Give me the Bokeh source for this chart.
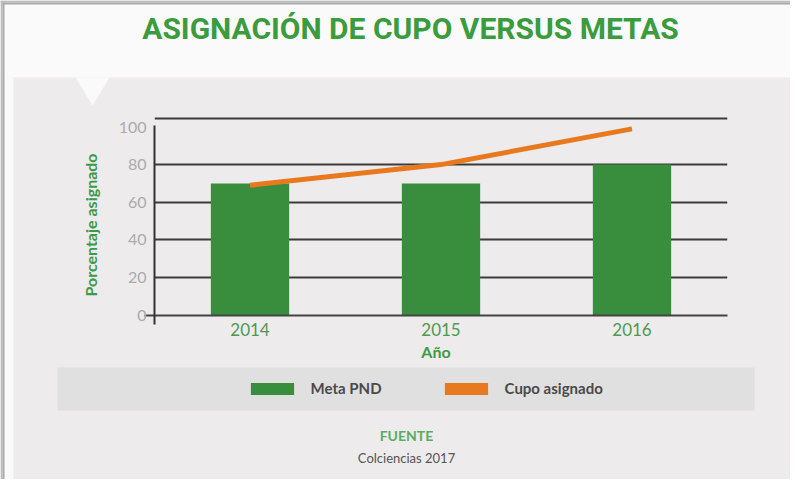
from bokeh.plotting import figure
from bokeh.models import (Range1d, FixedTicker, BoxAnnotation, PolyAnnotation,
                          Label, Legend, LegendItem, ColumnDataSource)
from bokeh.embed import file_html
from bokeh.resources import INLINE

# ---- data ----
years = [2014, 2015, 2016]
meta_pnd = [70, 70, 80]
cupo_asignado = [69, 80, 99]
y_ticks = [0, 20, 40, 60, 80, 100]
grid_ticks = [20, 40, 60, 80, 104.5]

GREEN = "#388E3C"
ORANGE = "#E8791E"
TXT_GREEN = "#3E9A44"
PANEL = "#EDEBEC"

W, H = 790, 479
PX_X = 191.0      # px per year
PX_Y = 1.88       # px per percent
X0_PX, Y0_PX = 154, 314.5   # canvas px of (2013.5, 0)

x_start = 2013.5 - X0_PX / PX_X
x_end = x_start + W / PX_X
y_end = Y0_PX / PX_Y
y_start = y_end - H / PX_Y

p = figure(width=W, height=H, x_range=Range1d(x_start, x_end), y_range=Range1d(y_start, y_end),
           output_backend="svg", toolbar_location=None,
           min_border=0, min_border_left=0, min_border_right=0, min_border_top=0, min_border_bottom=0)
p.border_fill_color = PANEL
p.background_fill_color = PANEL
p.outline_line_color = None


def sy(fy):
    return H - fy


def box(l, r, t, b, color):
    p.add_layout(BoxAnnotation(left=l, right=r, top=sy(t), bottom=sy(b),
                               left_units="screen", right_units="screen",
                               top_units="screen", bottom_units="screen",
                               fill_color=color, fill_alpha=1, line_color=None, level="underlay"))


# ---- grid ----
p.xgrid.grid_line_color = None
p.ygrid.ticker = FixedTicker(ticks=grid_ticks)
p.ygrid.grid_line_color = "#3C3C3C"
p.ygrid.grid_line_width = 2
if "cross_bounds" in p.ygrid[0].properties():
    p.ygrid[0].cross_bounds = (2013.5, 2016.5)

# masks for grid ends, card and shadow
box(13, X0_PX, 100, 305, PANEL)
box(727, W, 100, 305, PANEL)
box(0, W, 0, 77, "#FAFAFA")
box(0, 13, 0, H, "#FAFAFA")
box(0, 2, 0, H, "#BDBDBD")
box(2, 4, 2, H, "#AAAAAA")
box(0, W, 0, 2, "#BDBDBD")
box(2, W, 2, 4, "#AAAAAA")
p.add_layout(PolyAnnotation(xs=[75, 109, 92], ys=[sy(77), sy(77), sy(105)],
                            xs_units="screen", ys_units="screen",
                            fill_color="#FAFAFA", fill_alpha=1, line_color=None, level="underlay"))
# legend band
box(57, 754, 367, 410, "#E0E0E0")

# ---- glyphs ----
src = ColumnDataSource(dict(year=years, meta=meta_pnd, cupo=cupo_asignado))
bars = p.vbar(x="year", top="meta", bottom=0, width=0.41, source=src, fill_color=GREEN, line_color=None)
ln = p.line(x="year", y="cupo", source=src, line_color=ORANGE, line_width=5)
# zero-height proxy (invisible) that gives the legend a block swatch for the line
proxy = p.vbar(x="year", top="cupo", bottom="cupo", width=0.4, source=src,
               fill_color=ORANGE, line_color=None)

# ---- axes ----
xa = p.xaxis[0]
xa.fixed_location = 0
xa.bounds = (2013.45, 2016.5)
xa.ticker = FixedTicker(ticks=years)
xa.axis_line_color = "#444444"
xa.axis_line_width = 2
xa.major_tick_line_color = None
xa.minor_tick_line_color = None
xa.major_label_standoff = 2
xa.major_label_text_color = "#4C9A50"
xa.major_label_text_font = "Lato"
xa.major_label_text_font_size = "17px"
xa.axis_label = "Año"
xa.axis_label_standoff = 2
xa.axis_label_text_color = TXT_GREEN
xa.axis_label_text_font = "Lato"
xa.axis_label_text_font_style = "bold"
xa.axis_label_text_font_size = "16px"

ya = p.yaxis[0]
ya.fixed_location = 2013.5
ya.bounds = (-5, 101)
ya.ticker = FixedTicker(ticks=y_ticks)
ya.axis_line_color = "#333333"
ya.axis_line_width = 2
ya.major_tick_line_color = None
ya.minor_tick_line_color = None
ya.major_label_standoff = 2
ya.major_label_text_color = "#ABABAB"
ya.major_label_text_font = "Lato"
ya.major_label_text_font_size = "16px"
ya.axis_label = "Porcentaje asignado"
ya.axis_label_standoff = 16
ya.axis_label_text_color = TXT_GREEN
ya.axis_label_text_font = "Lato"
ya.axis_label_text_font_style = "bold"
ya.axis_label_text_font_size = "16px"

# ---- legend ----
legend = Legend(items=[LegendItem(label="Meta PND", renderers=[bars]),
                       LegendItem(label="Cupo asignado", renderers=[proxy])],
                orientation="horizontal", location=(244.6, sy(397)),
                glyph_width=54, glyph_height=15, label_standoff=12, spacing=57,
                padding=0, margin=0, background_fill_alpha=0, border_line_color=None,
                label_text_font="Lato", label_text_font_style="bold",
                label_text_font_size="15px", label_text_color="#4A4A4A")
p.add_layout(legend, "center")

# ---- texts ----
p.add_layout(Label(x=410, y=sy(28), x_units="screen", y_units="screen",
                   text="ASIGNACIÓN DE CUPO VERSUS METAS", text_align="center",
                   text_baseline="middle", text_font="Roboto",
                   text_font_style="bold", text_font_size="30px", text_color="#3A9B3F"))
p.add_layout(Label(x=406, y=sy(435), x_units="screen", y_units="screen",
                   text="FUENTE", text_align="center", text_baseline="middle",
                   text_font="Lato", text_font_style="bold", text_font_size="14px",
                   text_color="#5CAB5F"))
p.add_layout(Label(x=406, y=sy(457), x_units="screen", y_units="screen",
                   text="Colciencias 2017", text_align="center", text_baseline="middle",
                   text_font="Lato", text_font_size="13px", text_color="#555555"))

open("out.html", "w").write(file_html(p, INLINE))
